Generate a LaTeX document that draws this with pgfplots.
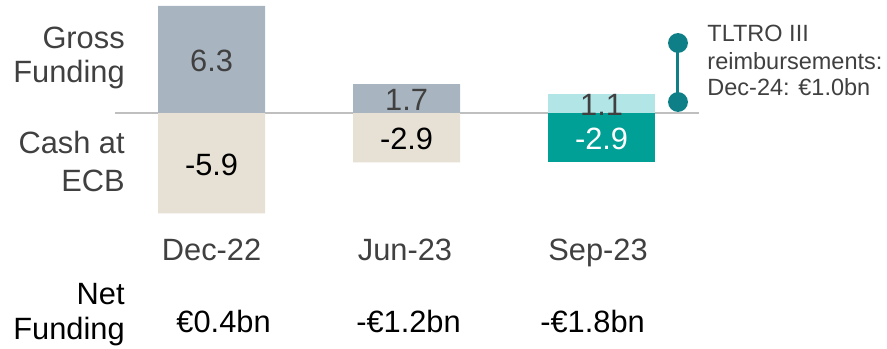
\documentclass[border=0pt]{standalone}
\usepackage{pgfplots}
\pgfplotsset{compat=1.18}
\usepackage{fontspec}
\setmainfont{Liberation Sans}

\definecolor{grossc}{HTML}{A8B4BF}
\definecolor{cashc}{HTML}{E7E1D5}
\definecolor{tealL}{HTML}{B2E5E6}
\definecolor{tealD}{HTML}{00A096}
\definecolor{tealM}{HTML}{0E7F86}
\definecolor{txt}{HTML}{404040}
\definecolor{zline}{HTML}{BFBFBF}

\newcommand{\labfont}{\fontsize{15.4}{18}\selectfont}
\newcommand{\notefont}{\fontsize{11.75}{13.4}\selectfont}
\tikzset{lab/.style={font=\labfont, inner sep=0pt}}

\begin{document}
\begin{tikzpicture}
\useasboundingbox (0,0) rectangle (443.5pt,174pt);
\begin{axis}[
  at={(0,0)}, anchor=south west,
  scale only axis, width=443.5pt, height=174pt,
  xmin=-1.085, xmax=3.464,
  ymin=-13.82, ymax=6.65,
  axis lines=none,
  clip=false,
  every node near coord/.append style={anchor=center, font=\labfont},
  visualization depends on={y \as \rawy},
]
% zero line
\addplot[zline, line width=0.8pt] coordinates {(-0.495,0) (2.5,0)};

% bars with values centred inside
\pgfplotsset{barlab/.style={
  ybar, bar width=53.5pt, bar shift=0pt, draw=none,
  nodes near coords={\pgfmathprintnumber[assume math mode=true,fixed,precision=1,fixed zerofill]{\pgfplotspointmeta}},
  every node near coord/.append style={yshift={-\rawy*4.25pt-0.6pt}},
}}
\addplot[barlab, fill=grossc, every node near coord/.append style={text=txt}] coordinates {(0,6.3) (1,1.7)};
\addplot[barlab, fill=cashc, every node near coord/.append style={text=black}] coordinates {(0,-5.9) (1,-2.9)};
\addplot[barlab, fill=tealL, every node near coord/.append style={text=txt}] coordinates {(2,1.1)};
\addplot[barlab, fill=tealD, every node near coord/.append style={text=white}] coordinates {(2,-2.9)};

% TLTRO III bracket
\addplot[tealM, line width=1.5pt, mark=*, mark size=4.2pt, mark options={fill=tealM}] coordinates {(2.392,4.12) (2.392,0.65)};

% row labels
\node[lab, anchor=base east, text=txt] at (axis cs:-0.4436,3.82) {Gross};
\node[lab, anchor=base east, text=txt] at (axis cs:-0.4436,1.78) {Funding};
\node[lab, anchor=base east, text=txt] at (axis cs:-0.4436,-2.35) {Cash at};
\node[lab, anchor=base east, text=txt] at (axis cs:-0.4436,-4.62) {ECB};
\node[lab, anchor=base east, text=black] at (axis cs:-0.4436,-11.29) {Net};
\node[lab, anchor=base east, text=black] at (axis cs:-0.4436,-13.3) {Funding};

% categories
\node[lab, anchor=base, text=txt] at (axis cs:0,-8.65) {Dec-22};
\node[lab, anchor=base, text=txt] at (axis cs:0.992,-8.65) {Jun-23};
\node[lab, anchor=base, text=txt] at (axis cs:1.982,-8.65) {Sep-23};

% net funding
\node[lab, anchor=base] at (axis cs:0.0615,-12.88) {€0.4bn};
\node[lab, anchor=base] at (axis cs:1.01,-12.88) {-€1.2bn};
\node[lab, anchor=base] at (axis cs:1.954,-12.88) {-€1.8bn};

% annotation
\node[anchor=base west, inner sep=0pt, font=\notefont, text=txt] at (axis cs:2.541,4.18) {TLTRO III};
\node[anchor=base west, inner sep=0pt, font=\notefont, text=txt] at (axis cs:2.541,2.59) {reimbursements:};
\node[anchor=base west, inner sep=0pt, font=\notefont, text=txt] at (axis cs:2.541,1.06) {Dec-24: €1.0bn};
\end{axis}
\end{tikzpicture}
\end{document}
